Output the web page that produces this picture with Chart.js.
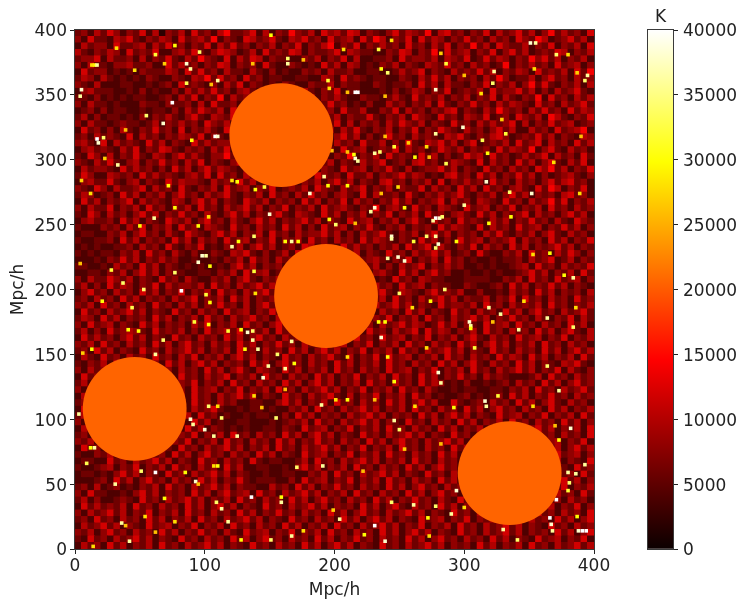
<!DOCTYPE html>
<html>
<head>
<meta charset="utf-8">
<title>Temperature map</title>
<script src="https://cdn.jsdelivr.net/npm/chart.js@4"></script>
<style>
    html, body { margin: 0; padding: 0; background: #fff; }
    #wrap { position: relative; width: 747px; height: 607px; overflow: hidden; }
    canvas { position: absolute; top: 0; }
    #mapChart { left: 0; }
    #barChart { left: 600px; }
</style>
</head>
<body>
<div id="wrap">
    <canvas id="mapChart" width="747" height="607"></canvas>
    <canvas id="barChart" width="147" height="607"></canvas>
</div>
<script>
// 전체 밝기 추정: 80x80 칸, 위쪽 행부터, 숫자 1 = 2000 K
const heatRows = [
'3425364243625143526342573346252437435264536524324635437256342436253463524735342643',
'4263325463243542634537243265346325463426345263752436263542436342534264375234635243',
'2534426334525363424362536342435243624357243624353426342536243735264335243624352634',
'5324354263436224536324654235263436524334625433224365243726345243624635234365243542',
'3446253342524363253743262536524332243524362522334263443525436236354243746352435263',
'4253324453342263534243652434263224323263525423243524325436342534237243534263452436',
'2634423232433354263634253325324232243425334223322353462432534363524354263435263724',
'3542532323243224325473634263423322332254263432332243253635243425374233524634253463',
'4325222332232342634324253624323243224335243322432334263525332436243524736324352534',
'2453332232423224253536342453234232353243623322232423542436234352634463524253463243',
'3324232323322342536243725342224332436243532243323532634352435243625324372634253524',
'4253323222433243342526334253632453342536342324225342435263243634253543263425346352',
'2342423322323324253643526324352634425734263352243625342435624325374342536342635423',
'3524233232424353246325436425342634325463524336324352643263425436234264352753243625',
'4253323433235243534264352434632534263343625243425364352432634253534625243634523436',
'2634242532436342624353263524357243524634253632435243624364325342463522534263457243',
'3425343262534243543624325463342536234352463524236342534325463243564234363524325436',
'4532625343263524326353443265243463524362534263352426325463524623435263462534263524',
'2453432536243653243425362342537324352643263452343625342364352434263543724632534263',
'3264252436325424635324473526342534264352437243526343263524236452634235346253426334',
'4325363245243634253624324635263452434635243253462342563423543262534263524632536242',
'2534432635342426352463543243625342635243263452436325234463524326342534264735243635',
'3642254342635343245362634253463524352643426335243463542325634263524363524234532463',
'2453363245243263544325342635234637243524635243256342435262435342634253424635634252',
'4326425334625342632435263452436234352643253462435243362534263526342453263752436243',
'3542342635243524634253463243526342536342453262533426324353463243524635243425634253',
'2635243462534325424635243264352434263524362534243635243462534254326342534736243524',
'4253362435263424352634253463524362435263453243724532634254326345243624352634253462',
'3264253424635243634253246352434632543263524352436243526342453263524346253424635243',
'2453342635243264352463425324635243463524326345243524632534263432535243634253264352',
'3222434253624352634254326342534263524263452436324352434263543262534263452436352434',
'2332243524634253264324635243526342534463524253463243524635243425363243524632534263',
'3223342635243426352534263452436243526342534263543243263524263452434625342635243624',
'2323223342534263243623243524635234265243263534243526346253243625342635243463524325',
'3232332435263425324224325463242352634253463524326342534635234263224352634253642435',
'2223243635243534223223243526342534263524352634532436243526342322323342534623524354',
'3322325342635243232322324635243425346352434263524253462435342232322345263425343624',
'2233243524635243322332435263452346325243526342453263524634223223232234635243526342',
'4253364352432634253224352463243526345243263545232634254332223333224352634263452435',
'3524263542436253443526342534635243263452436342534263452433224322342635243635243263',
'2463425342635243624352634253463243526342535243463254324634352242232534263524342536',
'3425342635243425346243526352434263524632453624352634253463524335243626342534263452',
'4352634253426342535243634252463542436253426342534635243263443526342534352634243526',
'2634253463524326342534263452436324352634253634253426352432634253426352463425346352',
'3542635243426352435263425346342534263524632452436243526342534635243634253243625342',
'4263452432635243425362435263424635243426352634253463542363524326345263425342635243',
'3524263454326343524263453624352634253463243526342534626354243526342534263524632534',
'2635342463524326342534263524634253463524352634263452436243524632534263452436243526',
'4352634253426352463425342635243634253263452436243526342534263524635243526342534263',
'3426352432634253463524352634253426352463524362435263425346352432634253426352463524',
'2532634253426342536243524635243263425346325243626345243526342534263542635243526343',
'3243526342534263524635243426352463425342635243526342534263524632534263524325463243',
'4253426352436342534263524632543263524352634253426345243624352634253463524362532435',
'2634253463524352634253462435263425342635243624352634263524363425343222352634253463',
'3524632534263452436243526342534263524635243526342534263542324223234253426352463425',
'4263524352634253426345243624352634253463524362435263425322323322332435263425346352',
'2534263452436243526342534635243263425346325243624352634232234232342635243634253426',
'3425346352436243526342534223322463524352634253426352463522632342534263524632534263',
'2634253426352463425346322323323224352634253463524352634253426352463425342635243524',
'3524632534263524352634232232332242635243425346352434263524635243263452436243526342',
'4263524352634253426352322332223234352634253463524326342534263524352634253426352463',
'2534263524632534263524323232233243263452436243526342534263524352634253463524352634',
'3426352434263452436243526342534263524635243263425346352432634253426352463425342635',
'4352634253463524362435263425342635243634253426352463425346352432634253263452436243',
'2634253426352432634253463524352634253463524362435263425342635243634253426352463524',
'3224352634253426352463425342635243263452436243526342534263524635243634253263452434',
'2332263425346352432634253426323322352634253463524352634253426352463425346352432635',
'3223452436243526342534263522332232463524352634253426352463425342635243634253263452',
'2332324635243263425346352432232233224352634253463524326342534263524352634253426352',
'2223426352463425342635243632333224263452436243526342534263524635243263425346352434',
'3425234232435263425346352433225342635243634253426352463425342635243263452436243526',
'4263322324635243426352463452634253463524352634253426352463425346352432634253426352',
'3524223432634253463524352634253426352463425342635243634253263452436243526342534263',
'2635343526342534263524635243263425346352434263524632534263524352634253463524362435',
'4253463524362435263425342635243634253426352463425346352432634253426352463425342635',
'3426342534263524352634253463524326342534263524635243263452436243526342534263524634',
'2534635243263452436243526342534263524352634253463524362435263425346352432634253426',
'4352463425342635243634253263452436243526342534263524635243263425346352434263524632',
'3263425346352432634253426352463425342635243634253426352463425342635243263452436243',
'2534263524352634253463524326342534263524635243263425346352434263524352634253463524'
];
const heatCols = 80;

// 눈에 띄는 밝은 칸: [Mpc/h x, Mpc/h y, K]
const brightCells = [
[15,373,30000],[17,373,36000],[13,373,28000],[5,354,38000],[4,349,36000],[17,316,40000],[18,313,38000],[22,317,34000],
[75,344,40000],[108,318,40000],[110,318,38000],[69,374,27000],[86,374,38000],[89,370,36000],[32,386,28000],[62,381,32000],
[77,388,30000],[96,383,34000],[105,358,26000],[110,361,36000],[46,369,28000],[39,323,26000],[68,328,38000],[33,296,36000],
[72,280,30000],[12,274,28000],[5,284,27000],[121,284,28000],[125,283,30000],[23,301,27000],[55,334,34000],[86,359,33000],[90,315,30000],
[216,352,40000],[218,352,40000],[216,301,38000],[215,304,30000],[218,299,36000],[231,305,36000],[235,306,34000],[241,367,34000],
[236,370,30000],[164,378,34000],[164,374,36000],[151,396,30000],[195,361,32000],[196,355,28000],[210,352,26000],[210,306,26000],
[234,385,32000],[244,392,28000],[137,374,26000],[181,274,38000],[192,287,36000],[195,280,30000],[210,280,30000],[236,274,26000],
[249,279,28000],[146,279,32000],[139,277,30000],[176,377,26000],[207,385,28000],[262,302,30000],[257,313,27000],[198,307,26000],
[246,310,32000],[239,349,26000],[239,318,26000],
[278,354,38000],[351,390,38000],[355,390,36000],[380,381,28000],[395,365,36000],[393,361,34000],[354,370,28000],[323,368,36000],
[286,374,32000],[299,325,38000],[318,305,30000],[314,315,33000],[329,331,27000],[286,297,33000],[278,320,36000],[271,310,28000],
[317,283,38000],[335,275,34000],[352,274,38000],[369,298,28000],[387,367,27000],[390,318,26000],[389,274,28000],[371,381,34000],
[322,359,34000],[332,320,32000],[313,351,28000],[273,302,26000],[300,365,26000],[282,382,27000],
[98,226,38000],[101,226,36000],[95,221,38000],[104,218,30000],[82,199,40000],[61,255,36000],[50,249,30000],[53,200,34000],
[101,196,32000],[104,190,30000],[37,205,34000],[44,186,33000],[21,191,30000],[92,175,32000],[103,173,30000],[118,168,32000],
[128,169,30000],[121,233,36000],[126,237,30000],[77,213,34000],[49,168,30000],[41,169,30000],[62,150,36000],[95,249,30000],
[103,256,28000],[4,220,26000],[77,263,30000],[6,151,27000],[13,154,30000],[28,215,32000],[68,161,34000],[131,154,30000],
[150,258,38000],[244,241,38000],[244,239,36000],[249,225,38000],[241,224,36000],[254,222,38000],[162,237,30000],[167,237,36000],
[172,237,30000],[201,250,34000],[228,260,36000],[196,254,30000],[138,241,34000],[138,214,32000],[139,197,28000],[137,168,34000],
[133,167,38000],[141,154,36000],[137,161,36000],[156,150,34000],[167,160,36000],[236,163,38000],[234,175,30000],[239,175,30000],
[250,197,34000],[260,186,28000],[216,251,26000],[261,237,32000],[241,148,30000],[149,141,36000],[162,139,36000],[169,143,30000],
[210,148,28000],[254,263,30000],[231,263,38000],
[278,255,40000],[281,255,38000],[276,253,36000],[283,256,34000],[280,235,38000],[278,232,34000],[278,241,36000],[304,175,38000],
[305,172,36000],[305,170,30000],[308,155,32000],[319,186,36000],[342,169,36000],[364,178,36000],[364,141,34000],[384,209,36000],
[346,191,28000],[386,186,28000],[271,155,28000],[285,200,34000],[274,191,30000],[353,227,28000],[328,181,36000],[300,265,36000],
[336,256,30000],[377,211,30000],[280,136,38000],[294,237,30000],[319,251,30000],[384,171,34000],[366,228,30000],[271,241,34000],[322,175,26000],
[89,100,38000],[91,96,36000],[113,101,34000],[100,92,38000],[107,64,28000],[110,64,30000],[93,52,38000],[62,59,40000],[15,78,36000],
[12,78,30000],[110,110,28000],[31,50,36000],[118,21,36000],[109,36,34000],[103,110,34000],[39,18,26000],[77,21,28000],[62,13,26000],
[14,2,28000],[42,6,36000],[69,39,30000],[125,87,36000],[107,87,36000],[95,50,26000],[3,104,36000],[36,20,36000],[9,66,33000],
[51,60,34000],[85,59,30000],[113,31,36000],[54,25,28000],[128,7,30000],
[136,40,40000],[159,40,30000],[159,36,36000],[201,115,28000],[210,115,30000],[190,111,36000],[246,99,36000],[250,92,34000],[231,18,40000],
[239,6,38000],[171,63,34000],[191,64,36000],[222,60,26000],[199,30,27000],[244,36,34000],[176,14,28000],[145,132,38000],[246,129,30000],
[138,118,28000],[155,101,34000],[223,11,30000],[167,10,36000],[261,34,36000],[144,109,26000],[204,23,36000],[231,115,26000],[262,110,28000],
[254,77,27000],[162,123,26000],[151,7,34000],
[366,24,40000],[367,19,38000],[368,14,36000],[391,14,40000],[394,14,40000],[388,14,38000],[316,114,38000],[317,110,36000],[294,45,38000],
[282,128,36000],[371,38,40000],[380,59,36000],[386,58,36000],[381,51,34000],[380,45,32000],[370,95,26000],[382,93,38000],[341,7,34000],
[330,15,36000],[300,32,28000],[290,27,36000],[282,81,26000],[373,122,36000],[278,33,34000],[272,24,30000],[326,118,32000],[387,25,30000],
[393,65,36000],[373,84,30000],[353,110,28000],[292,109,30000],[273,10,28000]
];

// 원판 중심 (Mpc/h)
const discX = [159, 193.5, 46, 335];
const discY = [319, 195, 108, 58.5];
const discRadius = 40;
const discValue = 20600;

const colorbarTicks = [0, 5000, 10000, 15000, 20000, 25000, 30000, 35000, 40000];
const colorMax = 40000;

const tickFont = { family: 'DejaVu Sans', size: 17 };
const inkColor = '#222222';
const spineColor = '#3a3a3a';

// matplotlib 'hot' 컬러맵
function hotColor(v) {
    const t = Math.min(1, Math.max(0, v / colorMax));
    const r = Math.min(1, 0.0416 + 0.9584 * t / 0.365);
    const g = Math.min(1, Math.max(0, (t - 0.365) / 0.381));
    const b = Math.min(1, Math.max(0, (t - 0.746) / 0.254));
    return `rgb(${Math.round(r * 255)},${Math.round(g * 255)},${Math.round(b * 255)})`;
}

const cellSize = 400 / heatCols;
const baseCells = [];
heatRows.forEach((row, r) => {
    row.slice(0, heatCols).split('').forEach((d, c) => {
        baseCells.push({ x: (c + 0.5) * cellSize, y: 400 - (r + 0.5) * cellSize, v: Number(d) * 2000 });
    });
});

// Mpc/h 길이를 사각형 포인트 반지름으로 변환
function rectRadius(chart, size) {
    const xs = chart.scales.x;
    return (Math.abs(xs.getPixelForValue(size) - xs.getPixelForValue(0)) + 1) / Math.SQRT2;
}

const framePlugin = {
    id: 'frame',
    afterDatasetsDraw(chart) {
        const a = chart.chartArea;
        chart.ctx.save();
        chart.ctx.strokeStyle = spineColor;
        chart.ctx.lineWidth = 1;
        chart.ctx.strokeRect(a.left - 0.5, a.top - 0.5, a.right - a.left + 1, a.bottom - a.top + 1);
        chart.ctx.restore();
    }
};

new Chart(document.getElementById('mapChart'), {
    type: 'scatter',
    data: {
        datasets: [
            {
                data: baseCells,
                order: 3,
                clip: 0,
                pointStyle: 'rect',
                pointBorderWidth: 0,
                pointRadius: ctx => rectRadius(ctx.chart, cellSize),
                pointBackgroundColor: ctx => hotColor(ctx.raw.v)
            },
            {
                data: brightCells.map(c => ({ x: c[0], y: c[1], v: c[2] })),
                order: 2,
                clip: 0,
                pointStyle: 'rect',
                pointBorderWidth: 0,
                pointRadius: ctx => rectRadius(ctx.chart, 2),
                pointBackgroundColor: ctx => hotColor(ctx.raw.v)
            },
            {
                data: discX.map((x, i) => ({ x: x, y: discY[i] })),
                order: 1,
                clip: 0,
                pointStyle: 'circle',
                pointBorderWidth: 0,
                pointRadius: ctx => {
                    const xs = ctx.chart.scales.x;
                    return xs.getPixelForValue(discRadius) - xs.getPixelForValue(0);
                },
                pointBackgroundColor: hotColor(discValue)
            }
        ]
    },
    options: {
        responsive: false,
        animation: false,
        events: [],
        layout: { padding: { top: 30, right: 153, left: 0, bottom: 0 } },
        plugins: { legend: { display: false }, tooltip: { enabled: false } },
        scales: {
            x: {
                type: 'linear',
                min: 0,
                max: 400,
                afterFit: s => { s.height = 58; },
                border: { color: spineColor },
                grid: { drawOnChartArea: false, color: inkColor, tickLength: 5 },
                ticks: { stepSize: 100, font: tickFont, color: inkColor, padding: 2, maxRotation: 0 },
                title: { display: true, text: 'Mpc/h', font: tickFont, color: inkColor, padding: { top: 0, bottom: 6 } }
            },
            y: {
                type: 'linear',
                min: 0,
                max: 400,
                afterFit: s => { s.width = 75; },
                border: { color: spineColor },
                grid: { drawOnChartArea: false, color: inkColor, tickLength: 5 },
                ticks: { stepSize: 50, font: tickFont, color: inkColor, padding: 3, labelOffset: 2 },
                title: { display: true, text: 'Mpc/h', font: tickFont, color: inkColor, padding: { top: 8, bottom: 0 } }
            }
        }
    },
    plugins: [framePlugin]
});

// 컬러바
new Chart(document.getElementById('barChart'), {
    type: 'bar',
    data: {
        labels: ['K'],
        datasets: [{
            data: [colorMax],
            barPercentage: 1,
            categoryPercentage: 1,
            backgroundColor: ctx => {
                const a = ctx.chart.chartArea;
                if (!a) return '#000';
                const g = ctx.chart.ctx.createLinearGradient(0, a.bottom, 0, a.top);
                [0, 0.365, 0.746, 1].forEach(s => g.addColorStop(s, hotColor(s * colorMax)));
                return g;
            }
        }]
    },
    options: {
        responsive: false,
        animation: false,
        events: [],
        layout: { padding: { left: 48, right: 0, top: 0, bottom: 58 } },
        plugins: { legend: { display: false }, tooltip: { enabled: false } },
        scales: {
            x: {
                position: 'top',
                afterFit: s => { s.height = 30; },
                border: { display: false },
                grid: { display: false },
                ticks: { display: false },
                title: { display: true, text: 'K', font: tickFont, color: inkColor, padding: { top: 7, bottom: 0 } }
            },
            y: {
                position: 'right',
                min: 0,
                max: colorMax,
                afterFit: s => { s.width = 74; },
                afterBuildTicks: s => { s.ticks = colorbarTicks.map(v => ({ value: v })); },
                border: { color: spineColor },
                grid: { drawOnChartArea: false, color: inkColor, tickLength: 5 },
                ticks: { font: tickFont, color: inkColor, padding: 5, labelOffset: 2, callback: v => String(v) }
            }
        }
    },
    plugins: [framePlugin]
});
</script>
</body>
</html>
